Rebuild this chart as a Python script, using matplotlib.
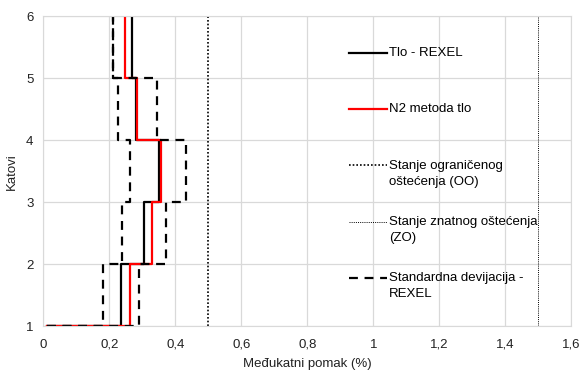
import matplotlib.pyplot as plt
from matplotlib.ticker import FuncFormatter

plt.rcParams['font.family'] = ['Liberation Sans', 'DejaVu Sans']

# storeys (katovi) and interstorey drift per storey (%)
katovi = [1, 2, 3, 4, 5, 6]
start_drift = 0.012
rexel_drift = [0.236, 0.304, 0.352, 0.282, 0.268]
n2_drift = [0.262, 0.328, 0.356, 0.283, 0.248]
std_lower = [0.180, 0.237, 0.264, 0.226, 0.210]
std_upper = [0.289, 0.371, 0.433, 0.346, 0.210]
limit_oo = 0.5
limit_zo = 1.5


def step_profile(values):
    # vertical segment for each storey, horizontal jump at each floor level
    xs, ys = [start_drift], [katovi[0]]
    for i, v in enumerate(values):
        xs += [v, v]
        ys += [katovi[i], katovi[i + 1]]
    return xs, ys


fig = plt.figure(figsize=(5.81, 3.74), dpi=100)
ax = fig.add_axes([0.0745, 0.128, 0.909, 0.828])

x, y = step_profile(rexel_drift)
ax.plot(x, y, color="black", lw=1.6, label="Tlo - REXEL\n")
x, y = step_profile(n2_drift)
ax.plot(x, y, color="#ff0000", lw=1.6, label="N2 metoda tlo\n")
ax.plot([limit_oo, limit_oo], [katovi[0], katovi[-1]], color="black", lw=1.2,
        linestyle=(0, (1, 1.2)), label="Stanje ograničenog\noštećenja (OO)")
ax.plot([limit_zo, limit_zo], [katovi[0], katovi[-1]], color="black", lw=0.7,
        linestyle=(0, (1, 1.2)), label="Stanje znatnog oštećenja\n(ZO)")
x, y = step_profile(std_lower)
ax.plot(x, y, color="black", lw=1.6, linestyle=(0, (4, 3)),
        label="Standardna devijacija -\nREXEL")
x, y = step_profile(std_upper)
ax.plot(x, y, color="black", lw=1.6, linestyle=(0, (4, 3)))

ax.set_xlim(0, 1.6)
ax.set_ylim(1, 6)
ax.set_xticks([0, 0.2, 0.4, 0.6, 0.8, 1.0, 1.2, 1.4, 1.6])
ax.set_yticks(katovi)
ax.xaxis.set_major_formatter(FuncFormatter(lambda v, p: f"{v:g}".replace(".", ",")))
ax.grid(color="#d9d9d9", lw=0.9)
ax.set_axisbelow(True)
for s in ax.spines.values():
    s.set_color("#d9d9d9")
ax.tick_params(axis="x", length=0, labelsize=9.5, colors="#222222", pad=9)
ax.tick_params(axis="y", length=0, labelsize=9.5, colors="#222222", pad=7)
ax.set_xlabel("Međukatni pomak (%)", fontsize=9.5, color="#222222", labelpad=5)
ax.set_ylabel("Katovi", fontsize=9.5, color="#222222", labelpad=6)

leg = ax.legend(loc="upper left", bbox_to_anchor=(336 / 581, 1 - 37 / 374),
                frameon=False, fontsize=9.5, handlelength=2.9, handletextpad=0.15,
                handleheight=1.3, labelspacing=2.1, borderpad=0, borderaxespad=0)
for t in leg.get_texts():
    t.set_linespacing(1.5)
# align each handle with the first line of its label
for col in leg._legend_handle_box.get_children():
    for item in col.get_children():
        item.align = "top"

fig.savefig("out.png", dpi=100)
